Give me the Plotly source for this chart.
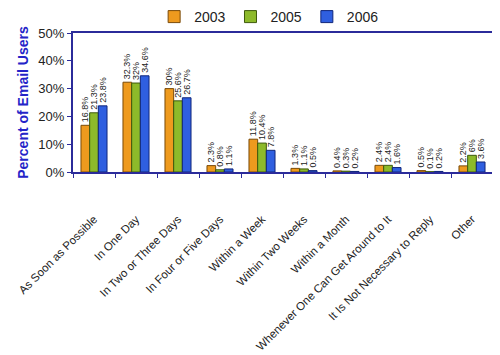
import plotly.graph_objects as go

categories = ["As Soon as Possible", "In One Day", "In Two or Three Days", "In Four or Five Days",
              "Within a Week", "Within Two Weeks", "Within a Month",
              "Whenever One Can Get Around to It", "It Is Not Necessary to Reply", "Other"]
years = ["2003", "2005", "2006"]
v2003 = [16.8, 32.3, 30, 2.3, 11.8, 1.3, 0.4, 2.4, 0.5, 2.2]
v2005 = [21.3, 32, 25.6, 0.8, 10.4, 1.1, 0.3, 2.4, 0.1, 6]
v2006 = [23.8, 34.6, 26.7, 1.1, 7.8, 0.5, 0.2, 1.6, 0.2, 3.6]
series = [v2003, v2005, v2006]
colors = ["#EE9A1E", "#8DBA2A", "#2F5FE0"]
lines = ["#7A4A08", "#3E5A0C", "#10267A"]

fig = go.Figure()
for name, vals, c, lc in zip(years, series, colors, lines):
    fig.add_trace(go.Bar(
        x=categories, y=vals, name=name,
        marker=dict(color=c, line=dict(color=lc, width=1)),
        text=[f"{v:g}%" for v in vals], textposition="outside",
        textangle=-90, cliponaxis=False,
        textfont=dict(size=9, color="#222222", family="Liberation Sans"),
    ))

fig.update_layout(
    width=492, height=347,
    margin=dict(l=65, r=7, t=25, b=183, autoexpand=False),
    paper_bgcolor="white", plot_bgcolor="white",
    barmode="group", bargap=0.38, bargroupgap=0,
    font=dict(family="Liberation Sans", color="#222222"),
    showlegend=True,
    legend=dict(orientation="h", x=0.467, xanchor="center", y=1.0, yanchor="bottom",
                font=dict(size=14, color="#222222"), itemwidth=30,
                traceorder="normal", bgcolor="rgba(0,0,0,0)"),
    uniformtext=dict(minsize=8, mode="show"),
)
fig.update_yaxes(
    range=[0, 50], dtick=10, ticksuffix="%", showgrid=False,
    ticks="outside", ticklen=4, tickcolor="#2B2B9A",
    showline=True, linecolor="#2B2B9A", linewidth=2, mirror=True,
    tickfont=dict(size=13, color="#222222"),
    title=dict(text="<b>Percent of Email Users</b>", font=dict(size=14, color="#2424C8"), standoff=6),
    zeroline=False,
)
fig.update_xaxes(
    tickangle=-45, tickfont=dict(size=11.5, color="#222222"),
    ticks="outside", ticklen=4, tickcolor="#2B2B9A", tickson="boundaries",
    ticklabelstandoff=34,
    showline=True, linecolor="#2B2B9A", linewidth=2, mirror=True,
)
fig.write_html("out.html")
